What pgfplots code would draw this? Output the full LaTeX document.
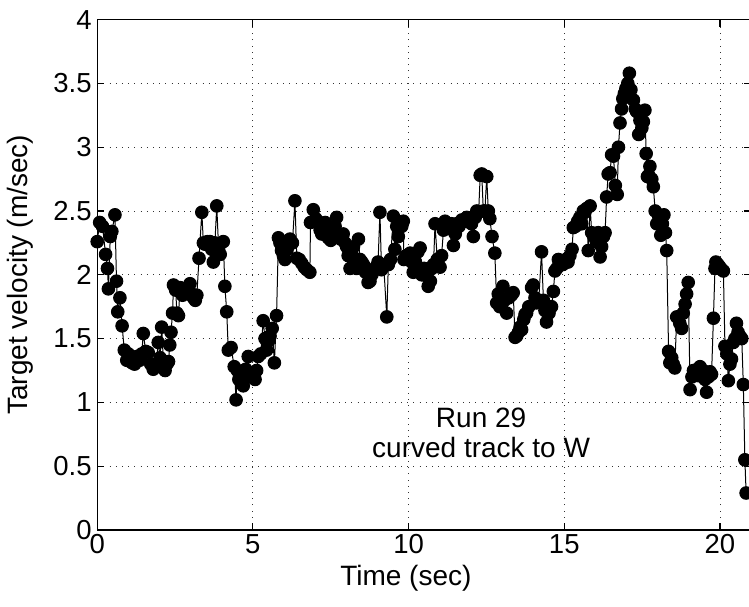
\documentclass[border=0pt]{standalone}
\usepackage{fontspec}
\setmainfont{Liberation Sans}
\usepackage{pgfplots}
\pgfplotsset{compat=1.18}
\pgfplotstableread{
t v
0.00 2.26
0.08 2.41
0.17 2.38
0.27 2.16
0.33 2.05
0.36 1.89
0.42 2.30
0.47 2.34
0.57 2.47
0.62 1.95
0.66 1.71
0.73 1.82
0.80 1.60
0.87 1.41
0.95 1.33
1.00 1.38
1.05 1.35
1.12 1.31
1.20 1.30
1.28 1.36
1.36 1.33
1.43 1.38
1.48 1.54
1.56 1.40
1.64 1.39
1.72 1.30
1.80 1.26
1.88 1.28
1.96 1.47
2.02 1.35
2.07 1.59
2.13 1.30
2.18 1.25
2.24 1.30
2.29 1.32
2.33 1.45
2.37 1.55
2.42 1.70
2.45 1.92
2.52 1.88
2.56 1.70
2.61 1.68
2.66 1.90
2.74 1.84
2.82 1.86
2.90 1.88
2.98 1.93
3.04 1.85
3.09 1.82
3.15 1.80
3.20 1.84
3.27 2.13
3.36 2.49
3.41 2.25
3.46 2.24
3.54 2.26
3.62 2.26
3.68 2.20
3.73 2.10
3.78 2.25
3.84 2.54
3.90 2.20
3.95 2.16
4.05 2.26
4.10 1.91
4.16 1.71
4.21 1.41
4.30 1.43
4.40 1.28
4.46 1.02
4.50 1.25
4.55 1.18
4.62 1.22
4.69 1.13
4.77 1.26
4.85 1.36
4.90 1.20
4.98 1.22
5.07 1.18
5.12 1.25
5.17 1.36
5.25 1.38
5.33 1.64
5.39 1.50
5.44 1.41
5.50 1.48
5.55 1.52
5.62 1.58
5.69 1.31
5.76 1.68
5.82 2.29
5.87 2.25
5.92 2.19
5.98 2.15
6.03 2.12
6.10 2.20
6.19 2.28
6.27 2.25
6.35 2.58
6.41 2.13
6.49 2.12
6.57 2.09
6.65 2.06
6.73 2.04
6.83 2.02
6.85 2.41
6.94 2.51
7.02 2.44
7.10 2.41
7.16 2.35
7.21 2.32
7.27 2.36
7.32 2.41
7.37 2.34
7.42 2.29
7.50 2.27
7.58 2.30
7.64 2.38
7.69 2.45
7.74 2.30
7.82 2.28
7.90 2.32
7.96 2.25
8.01 2.22
8.06 2.15
8.12 2.05
8.18 2.15
8.23 2.22
8.28 2.12
8.33 2.05
8.39 2.28
8.44 2.12
8.50 2.10
8.55 2.08
8.62 2.02
8.70 1.94
8.76 1.95
8.82 2.00
8.87 2.04
8.95 2.06
9.02 2.10
9.08 2.49
9.13 2.04
9.20 2.08
9.30 1.67
9.35 2.08
9.42 2.12
9.51 2.46
9.56 2.20
9.62 2.38
9.67 2.30
9.72 2.40
9.78 2.38
9.83 2.42
9.85 2.12
9.92 2.15
10.00 2.14
10.05 2.17
10.10 2.10
10.15 2.02
10.22 2.10
10.30 2.18
10.37 2.21
10.42 2.00
10.50 2.05
10.58 1.99
10.63 1.91
10.70 1.95
10.75 2.05
10.80 2.08
10.85 2.40
10.92 2.12
11.01 2.06
11.06 2.15
11.12 2.35
11.17 2.42
11.25 2.38
11.33 2.36
11.38 2.40
11.44 2.23
11.50 2.32
11.54 2.40
11.62 2.38
11.71 2.43
11.80 2.42
11.87 2.45
11.95 2.44
12.02 2.40
12.08 2.30
12.14 2.45
12.19 2.50
12.25 2.49
12.30 2.78
12.35 2.79
12.40 2.50
12.45 2.50
12.51 2.77
12.56 2.50
12.61 2.44
12.68 2.30
12.77 2.17
12.83 1.78
12.88 1.85
12.93 1.75
13.03 1.91
13.08 1.80
13.15 1.70
13.22 1.82
13.30 1.84
13.36 1.86
13.42 1.51
13.47 1.52
13.53 1.55
13.58 1.59
13.63 1.57
13.70 1.65
13.74 1.69
13.79 1.70
13.86 1.75
13.95 1.90
14.00 1.92
14.06 1.82
14.11 1.78
14.18 1.80
14.27 2.18
14.33 1.80
14.38 1.72
14.43 1.63
14.51 1.70
14.59 1.75
14.65 1.87
14.70 2.03
14.76 2.05
14.81 2.12
14.86 2.11
14.95 2.08
15.05 2.12
15.12 2.10
15.18 2.15
15.25 2.20
15.29 2.37
15.36 2.38
15.43 2.42
15.50 2.45
15.56 2.40
15.61 2.50
15.66 2.49
15.72 2.52
15.77 2.19
15.83 2.54
15.88 2.33
15.95 2.30
16.03 2.26
16.09 2.33
16.15 2.14
16.20 2.22
16.26 2.30
16.31 2.33
16.36 2.61
16.41 2.79
16.47 2.80
16.52 2.94
16.58 2.93
16.64 2.70
16.70 2.63
16.74 3.00
16.79 3.19
16.84 3.30
16.88 3.38
16.93 3.42
16.98 3.46
17.04 3.50
17.09 3.58
17.14 3.45
17.22 3.37
17.28 3.30
17.32 3.28
17.39 3.10
17.43 3.21
17.49 3.15
17.54 3.20
17.59 3.29
17.63 2.95
17.67 2.77
17.71 2.78
17.75 2.85
17.81 2.75
17.86 2.69
17.92 2.50
17.97 2.40
18.04 2.45
18.10 2.31
18.15 2.40
18.20 2.47
18.25 2.33
18.29 2.19
18.35 1.40
18.39 1.31
18.45 1.35
18.50 1.30
18.55 1.27
18.61 1.67
18.66 1.66
18.71 1.62
18.77 1.58
18.82 1.70
18.88 1.77
18.93 1.85
18.98 1.94
19.04 1.10
19.10 1.20
19.15 1.25
19.20 1.25
19.25 1.22
19.30 1.21
19.36 1.28
19.41 1.23
19.46 1.25
19.52 1.18
19.57 1.08
19.63 1.20
19.68 1.24
19.73 1.22
19.79 1.66
19.84 2.05
19.87 2.10
19.94 2.08
20.00 2.06
20.06 2.04
20.11 2.03
20.16 1.44
20.22 1.38
20.27 1.17
20.32 1.30
20.37 1.34
20.43 1.47
20.48 1.50
20.53 1.62
20.58 1.55
20.64 1.52
20.70 1.50
20.75 1.14
20.80 0.55
20.84 0.29
}\velocity
\begin{document}
\begin{tikzpicture}
\begin{axis}[
  at={(0,0)}, anchor=south west,
  scale only axis,
  width=653.9pt, height=510.4pt,
  xmin=0, xmax=21, ymin=0, ymax=4,
  xtick={0,5,10,15,20},
  ytick={0,0.5,1,1.5,2,2.5,3,3.5,4},
  yticklabels={0,0.5,1,1.5,2,2.5,3,3.5,4},
  xticklabels={0,5,10,15,20},
  grid=major,
  major grid style={black!80, line width=0.9pt, dash pattern=on 0.9pt off 5.3pt},
  axis line style={black, line width=1.1pt},
  major tick length=7pt,
  tick style={black, line width=1.1pt},
  tick align=inside,
  /pgf/number format/assume math mode=true,
  tick label style={font=\fontsize{27.5}{30}\selectfont},
  label style={font=\fontsize{28}{30}\selectfont},
  xlabel={Time (sec)},
  ylabel={Target velocity (m/sec)},
  xlabel style={at={(axis description cs:0.472,0)}, anchor=north, yshift=-32pt},
  ylabel style={at={(axis description cs:0,0.5)}, anchor=south, yshift=60pt},
  yticklabel style={xshift=-2pt},
  xticklabel style={yshift=-1pt},
  clip=false,
]
\addplot[black, line width=1pt, mark=*, mark size=6.3pt,
  mark options={fill=black, draw=black}] table[x=t, y=v] {\velocity};
\node[font=\fontsize{28}{30}\selectfont, anchor=base] at (axis cs:12.33,0.80) {Run 29};
\node[font=\fontsize{28}{30}\selectfont, anchor=base] at (axis cs:12.33,0.565) {curved track to W};
\end{axis}
\pgfresetboundingbox
\path[use as bounding box] (-97.2pt,-76pt) rectangle (651.8pt,530pt);
\end{tikzpicture}
\end{document}
